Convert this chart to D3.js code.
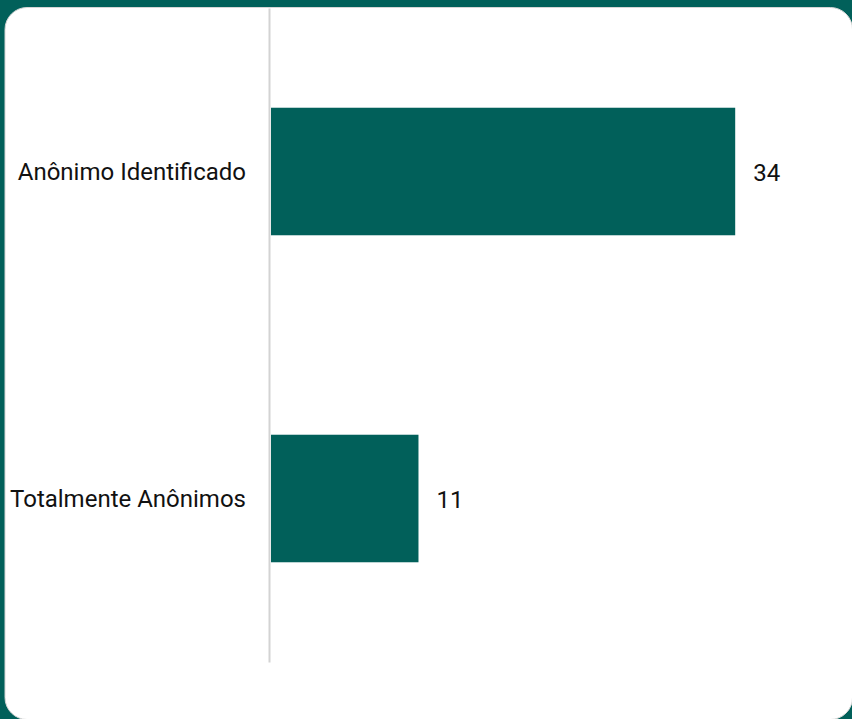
<!DOCTYPE html>
<html>
<head>
<meta charset="utf-8">
<script src="https://cdn.jsdelivr.net/npm/d3@7"></script>
<style>
  html, body { margin: 0; padding: 0; background: #01605a; }
  svg { display: block; }
</style>
</head>
<body>
<svg id="chart" width="852" height="719"></svg>
<script>
// Categories and their counts
const categories = ["Anônimo Identificado", "Totalmente Anônimos"];
const values = [34, 11];

const W = 852, H = 719;
const teal = "#01605a";

const svg = d3.select("#chart");

// Backdrop and white rounded card
svg.append("rect").attr("width", W).attr("height", H).attr("fill", teal);
svg.append("rect")
  .attr("x", 5).attr("y", 7.5)
  .attr("width", 847.5).attr("height", 712)
  .attr("rx", 22).attr("ry", 22)
  .attr("fill", "#ffffff")
  .attr("stroke", "#d6d6d6").attr("stroke-width", 1);

const axisX = 269;

const y = d3.scaleBand()
  .domain(categories)
  .range([8, 662])
  .paddingInner(0.61)
  .paddingOuter(0.305);

const x = d3.scaleLinear()
  .domain([0, 34])
  .range([267, 735.2]);

const rows = categories.map((c, i) => ({ c, v: values[i] }));

// Bars
svg.append("g").selectAll("rect")
  .data(rows)
  .join("rect")
  .attr("x", axisX + 2)
  .attr("y", d => y(d.c))
  .attr("width", d => Math.max(0, x(d.v) - (axisX + 2)))
  .attr("height", y.bandwidth())
  .attr("fill", teal);

// Category axis on the left
const yAxis = d3.axisLeft(y).tickSize(0).tickPadding(23);
const gy = svg.append("g")
  .attr("transform", `translate(${axisX},0)`)
  .call(yAxis);
gy.select(".domain")
  .attr("stroke", "#d3d3d3")
  .attr("stroke-width", 2);
gy.selectAll("text")
  .attr("font-family", "Roboto, sans-serif")
  .attr("font-size", 24)
  .attr("fill", "#111111")
  .attr("dy", "0.35em");

// Value labels at bar ends
svg.append("g").selectAll("text")
  .data(rows)
  .join("text")
  .attr("x", d => x(d.v) + 18)
  .attr("y", d => y(d.c) + y.bandwidth() / 2)
  .attr("dy", "0.38em")
  .attr("font-family", "Roboto, sans-serif")
  .attr("font-size", 24)
  .attr("fill", "#111111")
  .text(d => d.v);
</script>
</body>
</html>
